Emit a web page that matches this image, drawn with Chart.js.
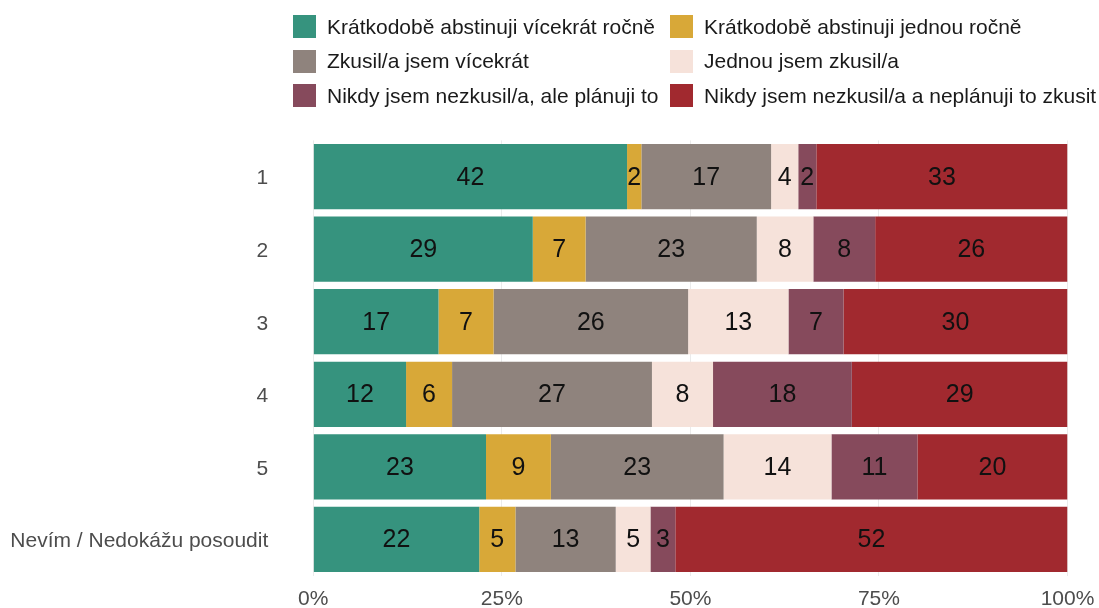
<!DOCTYPE html>
<html>
<head>
<meta charset="utf-8">
<script src="https://cdn.jsdelivr.net/npm/chart.js@4/dist/chart.umd.min.js"></script>
<style>
    body { margin: 0; background: #fff; font-family: "Liberation Sans", Arial, sans-serif; }
    .wrap { position: relative; width: 1099px; height: 608px; }
    #legend {
        position: absolute; left: 293px; top: 15px;
        display: grid; grid-template-columns: 377px auto; row-gap: 11.5px;
    }
    .item { display: flex; align-items: center; height: 23px; font-size: 21px; color: #1a1a1a; white-space: nowrap; }
    .box { width: 23px; height: 23px; margin-right: 11px; flex: none; }
</style>
</head>
<body>
<div class="wrap">
    <div id="legend"></div>
    <canvas id="myChart" width="1099" height="608"></canvas>
</div>
<script>
// categories (top to bottom)
const categories = ['1', '2', '3', '4', '5', 'Nevím / Nedokážu posoudit'];
const seriesNames = [
    'Krátkodobě abstinuji vícekrát ročně',
    'Krátkodobě abstinuji jednou ročně',
    'Zkusil/a jsem vícekrát',
    'Jednou jsem zkusil/a',
    'Nikdy jsem nezkusil/a, ale plánuji to',
    'Nikdy jsem nezkusil/a a neplánuji to zkusit'
];
const seriesColors = ['#36937e', '#d8a838', '#8f837d', '#f6e2da', '#864a5c', '#a1292f'];

// shares in %
const abstinVicekrat = [41.6, 29.1, 16.6, 12.3, 22.9, 22.0];
const abstinJednou   = [1.9, 7.0, 7.3, 6.1, 8.6, 4.8];
const zkusilVicekrat = [17.2, 22.7, 25.8, 26.5, 22.9, 13.3];
const zkusilJednou   = [3.6, 7.5, 13.3, 8.1, 14.3, 4.6];
const planuji        = [2.4, 8.2, 7.3, 18.4, 11.4, 3.3];
const neplanuji      = [33.3, 25.5, 29.7, 28.6, 19.9, 52.0];

// printed labels
const lblAbstinVicekrat = [42, 29, 17, 12, 23, 22];
const lblAbstinJednou   = [2, 7, 7, 6, 9, 5];
const lblZkusilVicekrat = [17, 23, 26, 27, 23, 13];
const lblZkusilJednou   = [4, 8, 13, 8, 14, 5];
const lblPlanuji        = [2, 8, 7, 18, 11, 3];
const lblNeplanuji      = [33, 26, 30, 29, 20, 52];

const xTicks = [0, 25, 50, 75, 100];

const seriesValues = [abstinVicekrat, abstinJednou, zkusilVicekrat, zkusilJednou, planuji, neplanuji];
const seriesLabels = [lblAbstinVicekrat, lblAbstinJednou, lblZkusilVicekrat, lblZkusilJednou, lblPlanuji, lblNeplanuji];

// legend in two columns, row by row
const legendEl = document.getElementById('legend');
seriesNames.forEach(function(name, i) {
    const it = document.createElement('div');
    it.className = 'item';
    it.innerHTML = '<span class="box" style="background:' + seriesColors[i] + '"></span>' + name;
    legendEl.appendChild(it);
});

// numbers inside the segments
const segmentLabels = {
    id: 'segmentLabels',
    afterDatasetsDraw(chart) {
        const ctx = chart.ctx;
        ctx.save();
        ctx.font = '25px "Liberation Sans", Arial, sans-serif';
        ctx.fillStyle = '#111';
        ctx.textAlign = 'center';
        ctx.textBaseline = 'middle';
        chart.data.datasets.forEach(function(ds, i) {
            chart.getDatasetMeta(i).data.forEach(function(bar, j) {
                const cx = (bar.x + bar.base) / 2;
                ctx.fillText(String(seriesLabels[i][j]), cx, bar.y + 1);
            });
        });
        ctx.restore();
    }
};

const ctx = document.getElementById('myChart').getContext('2d');
const myChart = new Chart(ctx, {
    type: 'bar',
    data: {
        labels: categories,
        datasets: seriesNames.map(function(name, i) {
            return {
                label: name,
                data: seriesValues[i],
                backgroundColor: seriesColors[i],
                borderWidth: 0,
                categoryPercentage: 0.9,
                barPercentage: 1
            };
        })
    },
    options: {
        indexAxis: 'y',
        responsive: false,
        animation: false,
        layout: { padding: { top: 140.4, right: 31.5, bottom: 0, left: 0 } },
        plugins: {
            legend: { display: false },
            tooltip: { enabled: false }
        },
        scales: {
            x: {
                stacked: true,
                min: 0,
                max: 100,
                afterBuildTicks: function(scale) {
                    scale.ticks = xTicks.map(function(v) { return { value: v }; });
                },
                afterFit: function(scale) {
                    scale.height = 32.4;
                    scale.paddingLeft = 0;
                    scale.paddingRight = 0;
                },
                grid: { color: '#ebebeb', lineWidth: 1, drawTicks: false },
                border: { display: false },
                ticks: {
                    padding: 11,
                    color: '#4d4d4d',
                    font: { size: 21, family: '"Liberation Sans", Arial, sans-serif' },
                    callback: function(v) { return v + '%'; }
                }
            },
            y: {
                stacked: true,
                afterFit: function(scale) {
                    scale.width = 313.3;
                    scale.paddingTop = 0;
                    scale.paddingBottom = 0;
                },
                grid: { display: false, drawTicks: false },
                border: { display: false },
                ticks: {
                    padding: 45,
                    labelOffset: 2,
                    color: '#4d4d4d',
                    font: { size: 21, family: '"Liberation Sans", Arial, sans-serif' }
                }
            }
        }
    },
    plugins: [segmentLabels]
});
</script>
</body>
</html>
